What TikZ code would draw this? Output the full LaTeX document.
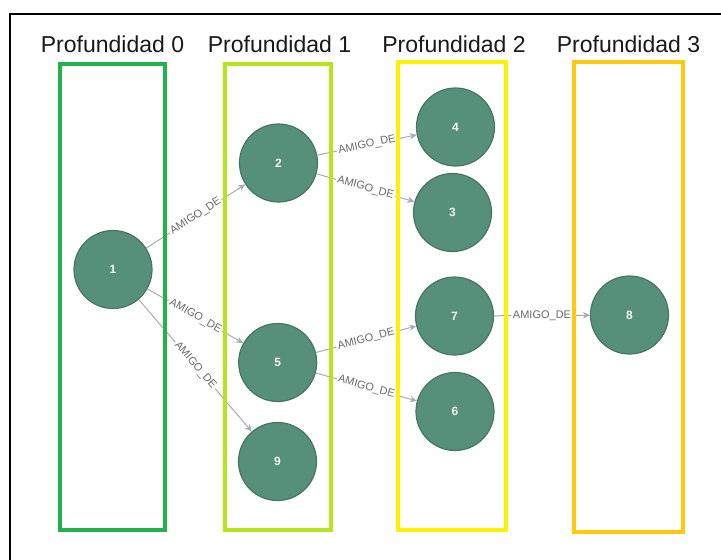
\documentclass[tikz,border=0pt]{standalone}
\usepackage{fontspec}
\setmainfont{Liberation Sans}
\usetikzlibrary{arrows.meta}
\definecolor{nodefill}{RGB}{87,144,122}
\definecolor{nodeline}{RGB}{70,118,98}
\definecolor{edgegray}{RGB}{166,171,183}
\definecolor{lblgray}{RGB}{105,105,112}
\definecolor{depthA}{RGB}{34,177,76}
\definecolor{depthB}{RGB}{181,230,29}
\definecolor{depthC}{RGB}{255,242,0}
\definecolor{depthD}{RGB}{255,201,14}
\begin{document}
\begin{tikzpicture}[x=1pt,y=-1pt,
  person/.style={circle, fill=nodefill, draw=nodeline, line width=1.2pt,
    minimum size=78pt, inner sep=0pt, text=white!92!nodefill,
    font=\fontsize{12}{14}\selectfont\bfseries},
  rel/.style={draw=edgegray, line width=1pt, -{Stealth[length=7pt,width=6.5pt]}},
  rellabel/.style={sloped, fill=white, inner sep=1.5pt, text=lblgray,
    font=\fontsize{11}{13}\selectfont},
  depthbox/.style={line width=4pt},
  depthtitle/.style={font=\fontsize{23}{26}\selectfont, text=black!90, anchor=base}
]
\useasboundingbox (0,0) rectangle (721,560);
\fill[white] (0,0) rectangle (721,560);

% people
\node[person] (n1) at (113,269.5) {1};
\node[person] (n2) at (278.5,163) {2};
\node[person] (n5) at (277.7,362.5) {5};
\node[person] (n9) at (277.5,461.5) {9};
\node[person] (n4) at (455.5,127) {4};
\node[person] (n3) at (452.5,212.5) {3};
\node[person] (n7) at (454.5,316) {7};
\node[person] (n6) at (455,411.5) {6};
\node[person] (n8) at (629.5,315) {8};

% friendship relations
\draw[rel] (n1) -- node[rellabel]{AMIGO\_DE} (n2);
\draw[rel] (n1) -- node[rellabel]{AMIGO\_DE} (n5);
\draw[rel] (n1) -- node[rellabel]{AMIGO\_DE} (n9);
\draw[rel] (n2) -- node[rellabel]{AMIGO\_DE} (n4);
\draw[rel] (n2) -- node[rellabel]{AMIGO\_DE} (n3);
\draw[rel] (n5) -- node[rellabel]{AMIGO\_DE} (n7);
\draw[rel] (n5) -- node[rellabel]{AMIGO\_DE} (n6);
\draw[rel] (n7) -- node[rellabel]{AMIGO\_DE} (n8);

% depth columns
\draw[depthbox, draw=depthA] (60,64) rectangle (165,530);
\draw[depthbox, draw=depthB] (225,64) rectangle (331,530);
\draw[depthbox, draw=depthC] (398,62) rectangle (506,530);
\draw[depthbox, draw=depthD] (574,62) rectangle (683,532);

\node[depthtitle] (t0) at (112.5,52) {Profundidad 0};
\node[depthtitle] (t1) at (279.5,52) {Profundidad 1};
\node[depthtitle] (t2) at (454,52) {Profundidad 2};
\node[depthtitle] (t3) at (628.5,52) {Profundidad 3};

% outer frame
\draw[line width=2pt] (10,560) -- (10,14) -- (721,14);
\end{tikzpicture}
\end{document}
